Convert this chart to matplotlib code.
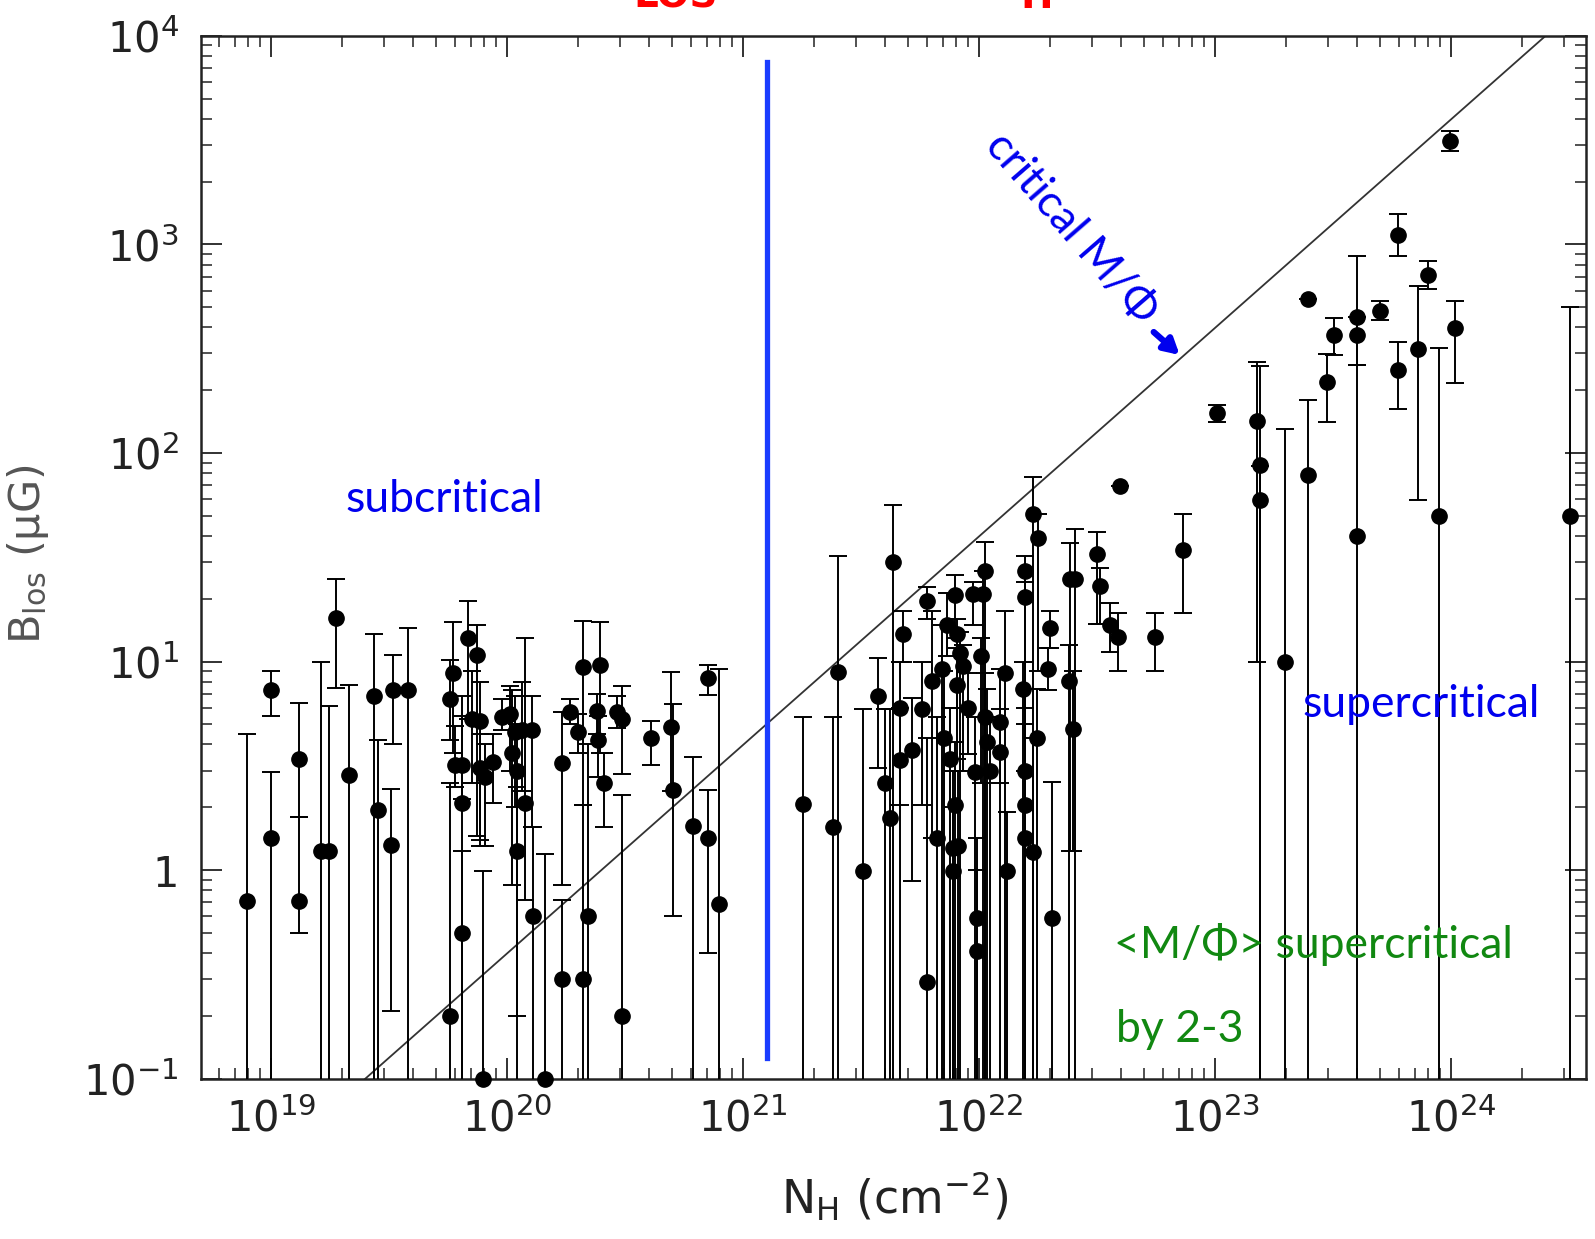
import matplotlib
matplotlib.use('Agg')
import matplotlib.pyplot as plt
import numpy as np
from matplotlib.ticker import FixedLocator, FixedFormatter, NullFormatter

# Zeeman data: log10 N_H, B_los (uG), top and bottom of each error bar
# (bottom 0 = the bar runs down off the plot)
log_nh = [18.90, 19.00, 19.00, 19.12, 19.12, 19.21, 19.245, 19.275, 19.33, 19.435,
          19.455, 19.515, 19.51, 19.58,
          19.758, 19.758, 19.772, 19.78, 19.808, 19.808, 19.808, 19.836, 19.85, 19.872,
          19.886, 19.886, 19.907, 19.942, 19.90, 19.978, 20.013, 20.02, 20.035, 20.041,
          20.041, 20.062, 20.076, 20.104, 20.111, 20.161, 20.232, 20.232, 20.267, 20.302,
          20.323, 20.323, 20.345, 20.38, 20.394, 20.387, 20.41, 20.465, 20.486, 20.486,
          20.61, 20.694, 20.705, 20.789, 20.85, 20.85, 20.90, 21.253, 21.38, 21.401, 21.507,
          21.637, 21.573, 21.679, 21.602, 21.623, 21.665, 21.665, 21.715, 21.778, 21.757,
          21.80, 21.778, 21.821, 21.842, 21.863, 21.852, 21.877, 21.888, 21.888, 21.898,
          21.905, 21.905, 21.898, 21.912, 21.919, 21.933, 21.955, 21.976, 21.983, 21.99,
          21.99, 22.01, 22.018, 22.025, 22.025, 22.033, 22.047, 22.089, 22.089, 22.11,
          22.117, 22.195, 22.195, 22.188, 22.195, 22.195, 22.195, 22.23, 22.251, 22.23,
          22.244, 22.301, 22.294, 22.308,
          22.386, 22.407, 22.379, 22.40, 22.50, 22.514, 22.556, 22.59, 22.597, 22.746,
          22.866, 23.007, 23.177, 23.19, 23.19, 23.297,
          23.395, 23.395, 23.476, 23.504, 23.603, 23.603, 23.603, 23.699, 23.777, 23.777,
          23.858, 23.904, 23.95, 23.996, 24.017, 24.504]

b_los = [0.71, 7.3, 1.43, 3.4, 0.71, 1.23, 1.23, 16.2, 2.86, 6.8,
         1.95, 7.3, 1.32, 7.3,
         6.6, 0.2, 8.8, 3.2, 3.2, 2.09, 0.5, 13.0, 5.3, 10.8,
         5.2, 3.1, 2.8, 3.3, 0.1, 5.4, 5.6, 3.65, 4.6, 3.0,
         1.24, 4.7, 2.09, 4.7, 0.6, 0.1, 3.25, 0.3, 5.7, 4.6,
         9.4, 0.3, 0.6, 5.8, 9.6, 4.2, 2.6, 5.7, 5.3, 0.2,
         4.3, 4.84, 2.43, 1.62, 8.34, 1.43, 0.69, 2.07, 1.61, 8.9, 0.99,
         30, 6.8, 13.6, 2.62, 1.78, 6.0, 3.36, 3.75, 19.5, 5.9,
         8.1, 0.29, 1.42, 9.25, 14.9, 4.3, 3.4, 1.27, 0.99, 20.9,
         13.6, 7.7, 2.04, 1.3, 11.0, 9.5, 6.0, 21.0, 2.95, 0.59,
         0.41, 10.6, 21.0, 27.3, 5.4, 4.1, 3.0, 5.15, 3.7, 8.8,
         0.99, 27.3, 20.4, 7.4, 3.0, 2.04, 1.42, 51, 39, 1.22,
         4.3, 14.4, 9.25, 0.59,
         24.9, 24.9, 8.1, 4.74, 32.7, 23.0, 15.0, 13.1, 69.2, 13.1,
         34.1, 155, 143, 87.7, 59.7, 10.0,
         550, 78.3, 218, 366, 449, 366, 40.2, 482, 1104, 250,
         316, 714, 50.1, 3150, 398, 50.1]

b_hi = [4.5, 9.0, 2.94, 6.3, 1.8, 10.0, 6.1, 24.8, 7.7, 13.5,
        4.2, 10.7, 2.44, 14.5,
        10.2, 2.6, 15.4, 4.9, 5.5, 6.8, 1.24, 19.6, 9.0, 14.9,
        8.0, 4.5, 4.0, 4.5, 0.99, 6.6, 7.6, 7.3, 6.8, 5.0,
        2.5, 8.0, 13.0, 6.8, 1.6, 1.2, 5.7, 0.72, 6.6, 5.6,
        15.6, 2.05, 4.0, 7.0, 15.4, 5.5, 3.65, 6.8, 7.6, 2.3,
        5.2, 8.9, 6.25, 3.47, 9.66, 2.43, 9.2, 5.4, 5.4, 32, 5.9,
        56, 10.4, 17.4, 5.9, 5.9, 9.9, 6.0, 6.7, 22.8, 9.9,
        17.4, 4.3, 5.4, 14.9, 21.3, 9.0, 6.0, 3.0, 2.0, 26.1,
        16.0, 11.6, 4.1, 3.0, 13.9, 12.0, 8.8, 24.0, 5.4, 1.42,
        1.0, 13.0, 27.3, 37.4, 8.8, 7.4, 5.4, 9.25, 5.9, 17.4,
        1.9, 32, 24, 9.9, 6.0, 5.0, 3.0, 77, 51, 4.3,
        7.4, 17.4, 11.6, 2.65,
        37, 43, 12.0, 9.0, 42, 28, 19.1, 17.0, 69.2, 17.0,
        51, 170, 273, 260, 87, 131,
        550, 180, 298, 443, 879, 449, 263, 537, 1400, 339,
        630, 832, 320, 3500, 537, 500]

b_lo = [0, 5.5, 0, 1.8, 0.5, 0, 0, 7.5, 0, 0,
        0, 4.0, 0.21, 0,
        4.2, 0, 3.65, 2.5, 2.2, 0, 0, 5.3, 2.6, 1.45,
        1.3, 1.4, 1.3, 2.1, 0, 4.7, 3.0, 0.85, 2.0, 0.2,
        0, 2.4, 0.72, 1.6, 0, 0, 0.85, 0, 5.0, 3.65,
        2.05, 0, 0, 4.5, 3.65, 2.8, 1.6, 4.8, 2.9, 0,
        3.2, 2.4, 0.6, 0, 6.9, 0.40, 0, 0, 0, 0, 0,
        0, 3.1, 10.0, 0, 0, 2.04, 0, 0.89, 16.0, 2.04,
        1.42, 0, 0, 0, 10.6, 0, 0, 0, 0, 13.0,
        6.0, 3.4, 0, 0, 0, 3.0, 3.6, 14.9, 0, 0,
        0, 2.6, 0, 0, 0, 0, 0, 2.6, 0, 0,
        0, 0, 0, 0, 0, 0, 0, 0, 9.0, 0,
        0, 11.6, 7.3, 0,
        1.23, 0, 0, 1.23, 15.2, 15.2, 11.1, 9.0, 69.2, 9.0,
        17.1, 141, 10.0, 0, 0, 0,
        550, 0, 141, 295, 263, 263, 0, 432, 880, 162,
        59.5, 614, 0, 2800, 216, 0]

# critical mass-to-flux line: log B = log N_H - 20.4
crit_offset = 20.4
# dividing column density (blue line) and its vertical extent
split_log_nh = 21.1
split_b = [0.125, 7500]

x_ticks = [1e19, 1e20, 1e21, 1e22, 1e23, 1e24]
x_tick_labels = ['$10^{19}$', '$10^{20}$', '$10^{21}$', '$10^{22}$', '$10^{23}$', '$10^{24}$']
y_ticks = [1e-1, 1, 1e1, 1e2, 1e3, 1e4]
y_tick_labels = ['$10^{-1}$', '1', '$10^{1}$', '$10^{2}$', '$10^{3}$', '$10^{4}$']

nh = 10 ** np.array(log_nh)
b = np.array(b_los, dtype=float)
hi = np.array(b_hi, dtype=float)
lo = np.array(b_lo, dtype=float)
lo = np.where(lo > 0, lo, 1e-4)

fig = plt.figure(figsize=(15.95, 12.39), dpi=100)
ax = fig.add_axes([0.126, 0.1295, 0.8684, 0.8415])
ax.set_xscale('log')
ax.set_yscale('log')
ax.set_xlim(10 ** 18.703, 10 ** 24.572)
ax.set_ylim(0.1, 1e4)

# critical line
xl = np.logspace(18.7, 24.6, 50)
ax.plot(xl, xl / 10 ** crit_offset, color='#333333', lw=1.3, zorder=2)

# error bars, then the points on top
ax.errorbar(nh, b, yerr=[b - lo, hi - b], fmt='none', ecolor='black',
            elinewidth=1.4, capsize=6.5, capthick=1.4, zorder=3)
ax.plot(nh, b, 'o', color='black', markersize=11, clip_on=False, zorder=4)

# blue divider
ax.plot([10 ** split_log_nh] * 2, split_b, color='#1a3cff', lw=3.8, zorder=5)

# ticks
ax.xaxis.set_major_locator(FixedLocator(x_ticks))
ax.xaxis.set_major_formatter(FixedFormatter(x_tick_labels))
ax.yaxis.set_major_locator(FixedLocator(y_ticks))
ax.yaxis.set_major_formatter(FixedFormatter(y_tick_labels))
minor_x = [m * 10.0 ** e for e in range(18, 25) for m in range(2, 10)]
minor_y = [m * 10.0 ** e for e in range(-1, 4) for m in range(2, 10)]
ax.xaxis.set_minor_locator(FixedLocator(minor_x))
ax.yaxis.set_minor_locator(FixedLocator(minor_y))
ax.xaxis.set_minor_formatter(NullFormatter())
ax.yaxis.set_minor_formatter(NullFormatter())
ax.tick_params(which='both', direction='in', top=True, right=True, colors='#222222')
ax.tick_params(which='major', length=15, width=1.3, labelsize=30)
ax.tick_params(which='minor', length=8, width=1.1)
ax.tick_params(axis='y', which='major', pad=16)
ax.tick_params(axis='x', which='major', pad=14)
for s in ax.spines.values():
    s.set_linewidth(1.8)
    s.set_color('#222222')

ax.set_xlabel('N$_{\\rm H}$ (cm$^{-2}$)', fontsize=33, color='#222222')
ax.xaxis.set_label_coords(0.501, -0.088)
ax.set_ylabel('B$_{\\rm los}$ (\u03bcG)', fontsize=31, color='#555555')
ax.yaxis.set_label_coords(-0.108, 0.503)

fam = ['Lato', 'DejaVu Sans']
ax.text(10 ** 19.735, 10 ** 1.777, 'subcritical', color='#0000ee', fontsize=32,
        family=fam, ha='center', va='center')
ax.text(10 ** 22.39, 10 ** 3.08, 'critical M/\u03a6', color='#0000ee', fontsize=32,
        family=fam, ha='center', va='center', rotation=-49, rotation_mode='anchor')
ax.annotate('', xy=(10 ** 22.85, 10 ** 2.47), xytext=(10 ** 22.74, 10 ** 2.58),
            arrowprops=dict(arrowstyle='-|>,head_length=0.9,head_width=0.5',
                            color='#0000ee', lw=4.5, shrinkA=0, shrinkB=0))
ax.text(10 ** 23.873, 10 ** 0.792, 'supercritical', color='#0000ee', fontsize=32,
        family=fam, ha='center', va='center')
ax.text(10 ** 22.572, 10 ** -0.355, '<M/\u03a6> supercritical', color='#118811',
        fontsize=32, family=fam, ha='left', va='center')
ax.text(10 ** 22.58, 10 ** -0.765, 'by 2-3', color='#118811',
        fontsize=32, family=fam, ha='left', va='center')

# red title, mostly cut off at the top of the figure
fig.text(676 / 1595, 1 - 8 / 1239, 'LOS', color='red', fontsize=28,
         fontweight='bold', ha='center', va='baseline')
fig.text(1037 / 1595, 1 - 8 / 1239, 'H', color='red', fontsize=28,
         fontweight='bold', ha='center', va='baseline')

fig.savefig('out.png', dpi=100)
